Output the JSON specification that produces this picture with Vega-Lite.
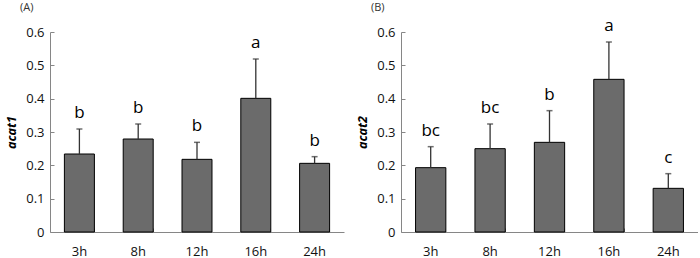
{
  "$schema": "https://vega.github.io/schema/vega-lite/v6.json",
  "padding": {"left": 5, "top": 2, "right": 0, "bottom": 0},
  "spacing": 12,
  "config": {
    "view": {"stroke": null},
    "font": "Open Sans",
    "title": {"anchor": "start", "frame": "group", "dx": -30, "fontSize": 11, "fontWeight": "normal", "color": "#333", "font": "Open Sans"},
    "axis": {"grid": false, "domainColor": "#868686", "tickColor": "#868686", "labelFontSize": 13, "labelColor": "#111", "labelFont": "Open Sans"},
    "axisY": {"tickSize": -4, "labelPadding": 10, "titleX": -39, "titleBaseline": "middle", "titleFontSize": 12.5, "titleFontStyle": "italic", "titleFontWeight": "bold", "titleColor": "#000", "values": [0, 0.1, 0.2, 0.3, 0.4, 0.5, 0.6], "format": ".1~f"},
    "axisX": {"tickSize": -4, "bandPosition": 1, "tickExtra": true, "labelAngle": 0, "labelPadding": 17, "title": null}
  },
  "datasets": {
    "a": [
      {"time": "3h", "mean": 0.234, "upper": 0.309, "letter": "b"},
      {"time": "8h", "mean": 0.279, "upper": 0.324, "letter": "b"},
      {"time": "12h", "mean": 0.218, "upper": 0.269, "letter": "b"},
      {"time": "16h", "mean": 0.401, "upper": 0.519, "letter": "a"},
      {"time": "24h", "mean": 0.206, "upper": 0.226, "letter": "b"}
    ],
    "b": [
      {"time": "3h", "mean": 0.193, "upper": 0.256, "letter": "bc"},
      {"time": "8h", "mean": 0.250, "upper": 0.324, "letter": "bc"},
      {"time": "12h", "mean": 0.269, "upper": 0.364, "letter": "b"},
      {"time": "16h", "mean": 0.458, "upper": 0.570, "letter": "a"},
      {"time": "24h", "mean": 0.131, "upper": 0.175, "letter": "c"}
    ]
  },
  "hconcat": [
    {
      "width": 294,
      "height": 200,
      "title": {"text": "(A)", "offset": 13},
      "data": {"name": "a"},
      "encoding": {
        "x": {"field": "time", "type": "nominal", "sort": ["3h", "8h", "12h", "16h", "24h"], "scale": {"paddingInner": 0.49, "paddingOuter": 0.245}}
      },
      "layer": [
        {"mark": {"type": "bar", "fill": "#6b6b6b", "stroke": "#000", "strokeWidth": 1},
         "encoding": {"y": {"field": "mean", "type": "quantitative", "title": "acat1", "scale": {"domain": [0, 0.6]}}}},
        {"mark": {"type": "rule", "color": "#333", "strokeWidth": 1.3},
         "encoding": {"y": {"field": "mean", "type": "quantitative", "title": "acat1"}, "y2": {"field": "upper"}}},
        {"mark": {"type": "tick", "color": "#333", "size": 6, "thickness": 1.5},
         "encoding": {"y": {"field": "upper", "type": "quantitative", "title": "acat1"}}},
        {"mark": {"type": "text", "fontSize": 17, "baseline": "bottom", "dy": -7, "color": "#000", "font": "Open Sans"},
         "encoding": {"y": {"field": "upper", "type": "quantitative", "title": "acat1"}, "text": {"field": "letter"}}}
      ]
    },
    {
      "width": 297,
      "height": 200,
      "title": {"text": "(B)", "offset": 4},
      "data": {"name": "b"},
      "encoding": {
        "x": {"field": "time", "type": "nominal", "sort": ["3h", "8h", "12h", "16h", "24h"], "scale": {"paddingInner": 0.49, "paddingOuter": 0.245}}
      },
      "layer": [
        {"mark": {"type": "bar", "fill": "#6b6b6b", "stroke": "#000", "strokeWidth": 1},
         "encoding": {"y": {"field": "mean", "type": "quantitative", "title": "acat2", "scale": {"domain": [0, 0.6]}}}},
        {"mark": {"type": "rule", "color": "#333", "strokeWidth": 1.3},
         "encoding": {"y": {"field": "mean", "type": "quantitative", "title": "acat2"}, "y2": {"field": "upper"}}},
        {"mark": {"type": "tick", "color": "#333", "size": 6, "thickness": 1.5},
         "encoding": {"y": {"field": "upper", "type": "quantitative", "title": "acat2"}}},
        {"mark": {"type": "text", "fontSize": 17, "baseline": "bottom", "dy": -7, "color": "#000", "font": "Open Sans"},
         "encoding": {"y": {"field": "upper", "type": "quantitative", "title": "acat2"}, "text": {"field": "letter"}}}
      ]
    }
  ]
}
